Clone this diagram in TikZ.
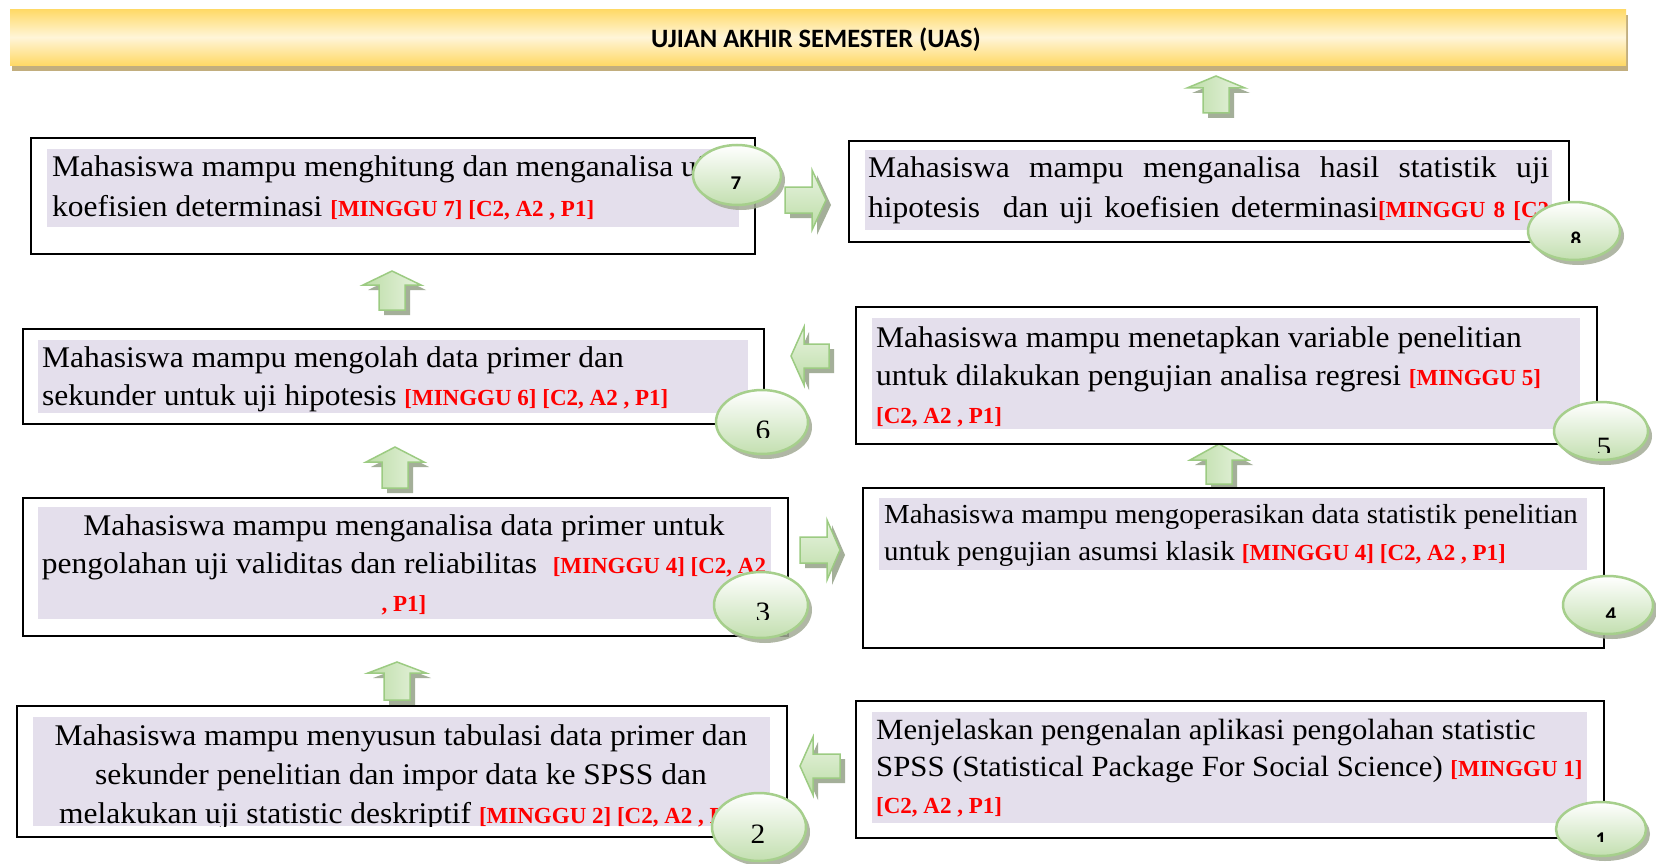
\documentclass[tikz,border=0pt]{standalone}
\usepackage{fontspec}
\setmainfont{Liberation Serif}[FakeStretch=1.05]
\newfontfamily\redfam{Liberation Serif}
\newfontfamily\hdrfont{Carlito}
\usetikzlibrary{shapes.geometric,shadows}
\definecolor{shadefill}{HTML}{E4DFEC}
\definecolor{ovalline}{HTML}{A6CF8C}
\definecolor{ovalbot}{HTML}{C3DFB0}
\definecolor{ovalshadow}{HTML}{A3AB96}
\definecolor{arrline}{HTML}{9CCB82}
\definecolor{arrfillA}{HTML}{BCDDA6}
\definecolor{arrfillB}{HTML}{E8F3E0}
\definecolor{arrshadow}{HTML}{9BA78E}
\definecolor{gold}{HTML}{FFD966}
\definecolor{cream}{HTML}{FFF5D8}
\definecolor{hdrshadow}{HTML}{C2AE7E}
\definecolor{redtxt}{HTML}{FF0000}
\newcommand\rt[1]{{\color{redtxt}\redfam\bfseries\fontsize{23}{38}\selectfont #1}}
\newcommand\mybox[5]{\node[outerbox,minimum width={#4-#2},minimum height={#5-#3}] (#1) at (#2,#3) {};}
\newcommand\myshade[5]{\node[shadebox,minimum width={#4-#2},minimum height={#5-#3}] (#1) at (#2,#3) {};}
% up arrow: cx, tip, headbase, bottom
\newcommand\uparr[4]{\draw[blockarrow,left color=arrfillA,right color=arrfillB] ({#1-13},#4) -- ({#1-13},#3) -- ({#1-29},#3) -- (#1,#2) -- ({#1+29},#3) -- ({#1+13},#3) -- ({#1+13},#4) -- cycle;}
% right arrow: cy, left, headstart, tip
\newcommand\rightarr[4]{\draw[blockarrow,top color=arrfillB,bottom color=arrfillA] (#2,{#1-13}) -- (#3,{#1-13}) -- (#3,{#1-30}) -- (#4,#1) -- (#3,{#1+30}) -- (#3,{#1+13}) -- (#2,{#1+13}) -- cycle;}
% left arrow: cy, tip, headend, right
\newcommand\leftarr[4]{\draw[blockarrow,top color=arrfillB,bottom color=arrfillA] (#4,{#1-12}) -- (#3,{#1-12}) -- (#3,{#1-29}) -- (#2,#1) -- (#3,{#1+29}) -- (#3,{#1+12}) -- (#4,{#1+12}) -- cycle;}
\begin{document}
\begin{tikzpicture}[x=1pt,y=-1pt,
  outerbox/.style={draw=black,line width=2pt,fill=white,anchor=north west,inner sep=0pt},
  shadebox/.style={fill=shadefill,anchor=north west,inner sep=0pt},
  txt/.style={anchor=north west,inner sep=0pt,align=left,font=\fontsize{30}{38}\selectfont},
  ctxt/.style={anchor=north,inner sep=0pt,align=center,font=\fontsize{30}{38}\selectfont},
  oval/.style={ellipse,draw=ovalline,line width=2.5pt,top color=white,bottom color=ovalbot,inner sep=0pt,
     drop shadow={shadow xshift=4pt,shadow yshift=-5pt,fill=ovalshadow,opacity=0.85}},
  blockarrow/.style={draw=arrline,line width=1.5pt,
     drop shadow={shadow xshift=5pt,shadow yshift=-5pt,fill=arrshadow,opacity=0.9}},
  numsans/.style={anchor=base,inner sep=0pt,font=\hdrfont\bfseries\fontsize{21}{24}\selectfont},
  numserif/.style={anchor=base,inner sep=0pt,font=\fontsize{28}{30}\selectfont}]
\useasboundingbox (0,0) rectangle (1656,864);
\fill[white] (0,0) rectangle (1656,864);
% header
\node[anchor=north west,inner sep=0pt,minimum width=1616,minimum height=56,
  top color=gold,bottom color=gold,middle color=cream,
  drop shadow={shadow xshift=2pt,shadow yshift=-6pt,fill=hdrshadow,opacity=1}] (uas) at (10,9) {};
\node[inner sep=0pt,font=\hdrfont\bfseries\fontsize{26.5}{30}\selectfont] (uast) at (816,40) {UJIAN AKHIR SEMESTER (UAS)};
% arrows
\uparr{1216}{76}{88}{113}
\uparr{392}{271}{285}{310}
\uparr{395}{447}{462}{488}
\uparr{397}{662}{673}{700}
\uparr{1219}{444}{460}{484}
\rightarr{200}{785}{812}{826}
\rightarr{550}{800}{827}{840}
\leftarr{356}{791}{804}{829}
\leftarr{766}{800}{813}{840}
% boxes
\mybox{b7}{30}{137}{754}{253}
\myshade{s7}{47}{149}{739}{227}
\mybox{b8}{848}{140}{1568}{241}
\myshade{s8}{865}{150}{1552}{230}
\mybox{b6}{22}{328}{763}{423}
\myshade{s6}{38}{340}{748}{413}
\mybox{b5}{855}{306}{1596}{443}
\myshade{s5}{872}{318}{1580}{429}
\mybox{b3}{22}{497}{787}{635}
\myshade{s3}{38}{507}{771}{619}
\mybox{b4}{862}{487}{1603}{647}
\myshade{s4}{879}{498}{1587}{570}
\mybox{b2}{16}{705}{786}{836}
\myshade{s2}{33}{717}{770}{826}
\mybox{b1}{855}{700}{1603}{837}
\myshade{s1}{872}{712}{1587}{823}
% texts
\node[txt,font=\fontsize{30}{40}\selectfont] (t7) at (52,155) {Mahasiswa mampu menghitung dan menganalisa uji\\koefisien determinasi \rt{[MINGGU 7] [C2, A2 , P1]}};
\node[txt,font=\fontsize{30}{40}\selectfont] (t8) at (868,156) {\makebox[681pt][s]{Mahasiswa mampu menganalisa hasil statistik uji}\\\makebox[681pt][s]{hipotesis\ \ dan uji koefisien determinasi\rt{[MINGGU 8 [C2}}};
\node[txt] (t6) at (42,346) {Mahasiswa mampu mengolah data primer dan\\sekunder untuk uji hipotesis \rt{[MINGGU 6] [C2, A2 , P1]}};
\node[txt] (t5) at (876,326) {Mahasiswa mampu menetapkan variable penelitian\\untuk dilakukan pengujian analisa regresi \rt{[MINGGU 5]}\\\rt{[C2, A2 , P1]}};
\node[ctxt] (t3) at (404,514) {Mahasiswa mampu menganalisa data primer untuk\\pengolahan uji validitas dan reliabilitas \ \rt{[MINGGU 4] [C2, A2}\\\rt{, P1]}};
\node[txt,font=\fontsize{27.5}{37}\selectfont] (t4) at (884,504) {Mahasiswa mampu mengoperasikan data statistik penelitian\\untuk pengujian asumsi klasik \rt{[MINGGU 4] [C2, A2 , P1]}};
\begin{scope}
\clip (33,717) rectangle (770,826);
\node[ctxt,font=\fontsize{30}{39}\selectfont] (t2) at (401,724) {Mahasiswa mampu menyusun tabulasi data primer dan\\sekunder penelitian dan impor data ke SPSS dan\\melakukan uji statistic deskriptif \rt{[MINGGU 2] [C2, A2 , P1]}};
\end{scope}
\node[txt,font=\fontsize{29.3}{37}\selectfont] (t1) at (876,719) {Menjelaskan pengenalan aplikasi pengolahan statistic\\SPSS (Statistical Package For Social Science) \rt{[MINGGU 1]}\\\rt{[C2, A2 , P1]}};
% ovals
\node[oval,minimum width=88,minimum height=60] (c7) at (737,175) {};
\node[oval,minimum width=92,minimum height=58] (c8) at (1574,231) {};
\node[oval,minimum width=92,minimum height=64] (c6) at (762,422) {};
\node[oval,minimum width=94,minimum height=58] (c5) at (1601,431) {};
\node[oval,minimum width=90,minimum height=58] (c4) at (1608,605) {};
\node[oval,minimum width=94,minimum height=66] (c3) at (761,605) {};
\node[oval,minimum width=94,minimum height=68] (c2) at (759,827) {};
\node[oval,minimum width=90,minimum height=54] (c1) at (1601,829) {};
% numbers
\begin{scope}\clip (690,140) rectangle (790,188); \node[numsans] (n7) at (736,190) {7};\end{scope}
\begin{scope}\clip (1525,200) rectangle (1625,242); \node[numsans] (n8) at (1576,246) {8};\end{scope}
\begin{scope}\clip (715,388) rectangle (812,437); \node[numserif] (n6) at (763,439) {6};\end{scope}
\begin{scope}\clip (1553,400) rectangle (1656,452); \node[numserif] (n5) at (1604,456) {5};\end{scope}
\begin{scope}\clip (1560,575) rectangle (1656,617); \node[numsans] (n4) at (1611,621) {4};\end{scope}
\begin{scope}\clip (712,570) rectangle (812,619); \node[numserif] (n3) at (763,621) {3};\end{scope}
\node[numserif] (n2) at (758,843) {2};
\begin{scope}\clip (1555,800) rectangle (1650,841); \node[numsans] (n1) at (1601,846) {1};\end{scope}
\end{tikzpicture}
\end{document}
